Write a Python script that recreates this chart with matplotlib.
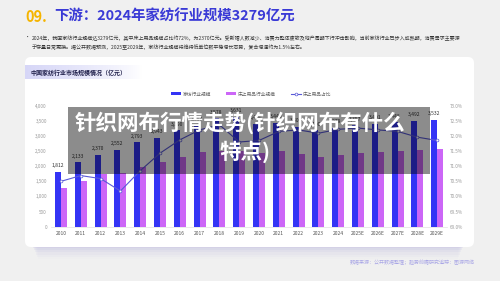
import numpy as np
import matplotlib
matplotlib.use("Agg")
import matplotlib.pyplot as plt
from matplotlib.patches import FancyBboxPatch, Rectangle
from matplotlib.lines import Line2D

plt.rcParams["font.family"] = ["Noto Sans CJK SC", "DejaVu Sans"]

# ---------------------------------------------------------------------------
# data
# ---------------------------------------------------------------------------
years = ["2010", "2011", "2012", "2013", "2014", "2015", "2016", "2017", "2018", "2019",
         "2020", "2021", "2022", "2023", "2024", "2025E", "2026E", "2027E", "2028E", "2029E"]
home_textile = [1812, 2133, 2370, 2552, 2793, 2943, 3190, 3350, 3578, 3631,
                3400, 3440, 3300, 3190, 3279, 3357, 3401, 3446, 3492, 3532]
bedding = [1269, 1500, 1742, 1775, 1965, 2133, 2310, 2477, 2500, 2510,
           2443, 2500, 2390, 2300, 2370, 2443, 2467, 2500, 2523, 2557]
bedding_share = [70.50, 70.69, 70.59, 70.18, 70.85, 71.43, 71.87, 72.20, 72.37, 71.80,
                 71.85, 72.15, 72.20, 72.09, 72.22, 72.26, 72.20, 72.15, 71.96, 71.85]

left_ticks = [0, 500, 1000, 1500, 2000, 2500, 3000, 3500, 4000]
right_ticks = [69.0, 69.5, 70.0, 70.5, 71.0, 71.5, 72.0, 72.5, 73.0]

title_num = "09."
title_text = "下游：2024年家纺行业规模3279亿元"
bullet_lines = [
    "2024年，我国家纺行业规模达3279亿元，其中床上用品规模占比约72%，为2370亿元。受新婚人数减少、消费力整体疲软及地产周期下行冲击影响，当前家纺行业已步入成熟期，消费需求主要源",
    "于存量日常更换。据公开数据预测，2025至2029年，家纺行业规模将维持低单位数平稳增长态势，复合增速约为1.5%左右。",
]
card_title = "中国家纺行业市场规模情况（亿元）"
legend_labels = ["家纺行业规模", "床上用品行业规模", "床上用品占比"]
footer = "数据来源：公开数据整理；趋势前瞻研究追踪：图源网络"
banner_lines = ["针织网布行情走势(针织网布有什么", "特点)"]

BLUE = "#3434f5"
PURPLE = "#cc66f7"
LINE = "#5a5ad8"
W, H = 500, 281

fig = plt.figure(figsize=(5, 2.81), dpi=100, facecolor="#f0f0f0")

# background layer in pixel coordinates
bg = fig.add_axes([0, 0, 1, 1], zorder=-5)
bg.set_xlim(0, W)
bg.set_ylim(H, 0)
bg.axis("off")

# card shadow
for i, a in enumerate(np.linspace(0.35, 0.05, 6)):
    bg.add_patch(Rectangle((33 + i, 244), 430 - 2 * i, 4 + i * 2.2,
                           facecolor="#b8b4e0", edgecolor="none", alpha=a * 0.5))
# white card
bg.add_patch(FancyBboxPatch((25, 57), 449, 190, boxstyle="round,pad=0,rounding_size=6",
                            facecolor="white", edgecolor="none"))
# header pill with gradient
grad = np.zeros((1, 256, 4))
grad[..., 0] = 0.84
grad[..., 1] = 0.84
grad[..., 2] = 0.97
grad[..., 3] = np.linspace(1, 0, 256) ** 0.8
bg.imshow(grad, extent=(25, 142, 79, 65), aspect="auto", zorder=1)
bg.set_xlim(0, W)
bg.set_ylim(H, 0)

# title
fig.text(25 / W, 1 - 16.5 / H, title_num, color="#f5b400", fontsize=10.5,
         fontweight="bold", va="center", ha="left")
fig.text(54 / W, 1 - 16.5 / H, title_text, color="#3a3ad6", fontsize=10.4,
         fontweight="bold", va="center", ha="left")
fig.text(25 / W, 1 - 38.3 / H, "•", color="#333333", fontsize=3.8, va="center")
for k, ln in enumerate(bullet_lines):
    fig.text(32 / W, 1 - (38.3 + 9.4 * k) / H, ln, color="#333333", fontsize=3.62,
             va="center", ha="left")
fig.text(30 / W, 1 - 72.5 / H, card_title, color="#1f1f4a", fontsize=4.3,
         fontweight="bold", va="center", ha="left")
fig.text(475 / W, 1 - 262.7 / H, footer, color="#a9a6e6", fontsize=3.6,
         va="center", ha="right")

# ---------------------------------------------------------------------------
# chart
# ---------------------------------------------------------------------------
x = np.arange(len(years))
ax = fig.add_axes([51.1 / W, (H - 226.7) / H, 396 / W, 121 / H])
bw = 0.30
ax.bar(x - bw / 2, home_textile, width=bw, color=BLUE, zorder=2)
ax.bar(x + bw / 2, bedding, width=bw, color=PURPLE, zorder=2)
for xi, v in zip(x, home_textile):
    ax.text(xi - bw / 2, v + 120, f"{v:,}", ha="center", va="bottom",
            fontsize=3.6, color="#333333")
ax.set_xlim(-0.5, len(years) - 0.5)
ax.set_ylim(0, 4000)
ax.set_yticks(left_ticks)
ax.set_yticklabels([f"{t:,}" for t in left_ticks])
ax.set_xticks(x)
ax.set_xticklabels(years)
ax.tick_params(axis="x", length=0, pad=3, labelsize=3.6, labelcolor="#555555")
ax.tick_params(axis="y", length=0, pad=3, labelsize=3.3, labelcolor="#999999")
for s in ["top", "left", "right"]:
    ax.spines[s].set_visible(False)
ax.spines["bottom"].set_color("#e2e2e2")
ax.spines["bottom"].set_linewidth(0.5)
ax.set_facecolor("none")

ax2 = ax.twinx()
ax2.plot(x, bedding_share, color=LINE, lw=0.8, marker="o", markersize=2.0,
         markerfacecolor="white", markeredgecolor=LINE, markeredgewidth=0.5, zorder=3)
ax2.set_ylim(69.0, 73.0)
ax2.set_yticks(right_ticks)
ax2.set_yticklabels([f"{t:.1f}%" for t in right_ticks])
ax2.tick_params(axis="y", length=0, pad=2, labelsize=3.3, labelcolor="#999999")
for s in ["top", "left", "right", "bottom"]:
    ax2.spines[s].set_visible(False)

handles = [
    Rectangle((0, 0), 1, 1, facecolor=BLUE, edgecolor="none"),
    Rectangle((0, 0), 1, 1, facecolor=PURPLE, edgecolor="none"),
    Line2D([0], [0], color=LINE, lw=0.8, marker="o", markersize=2.0,
           markerfacecolor="white", markeredgewidth=0.5),
]
fig.legend(handles, legend_labels, loc="center", bbox_to_anchor=(251 / W, 1 - 94 / H),
           ncol=3, frameon=False, fontsize=3.4, labelcolor="#666666",
           handlelength=2.2, handleheight=0.5, handletextpad=0.3, columnspacing=3.2)

# ---------------------------------------------------------------------------
# overlay banner
# ---------------------------------------------------------------------------
top = fig.add_axes([0, 0, 1, 1], zorder=10)
top.set_xlim(0, W)
top.set_ylim(H, 0)
top.axis("off")
top.patch.set_alpha(0)
top.add_patch(Rectangle((68, 107), 362, 67, facecolor="black", alpha=0.45, edgecolor="none"))
top.text(240, 123, banner_lines[0], color="white", fontsize=15.5, fontweight="bold",
         ha="center", va="center")
top.text(245, 152, banner_lines[1], color="white", fontsize=15.5, fontweight="bold",
         ha="center", va="center")

fig.savefig("out.png", dpi=100, facecolor=fig.get_facecolor())
